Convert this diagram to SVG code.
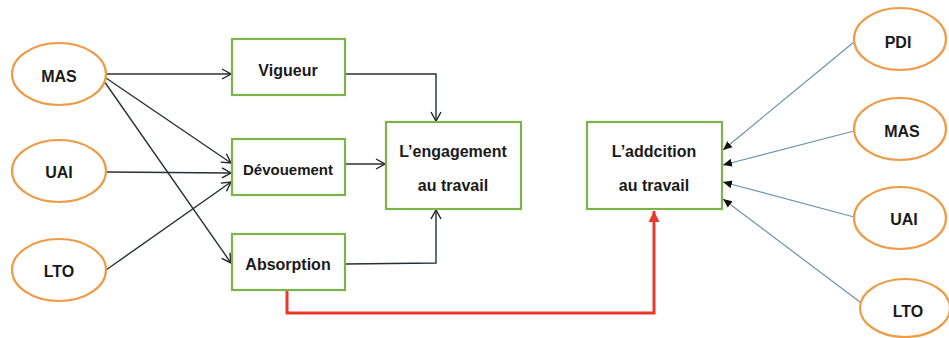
<svg xmlns="http://www.w3.org/2000/svg" width="949" height="338" viewBox="0 0 949 338">
<defs>
<marker id="open" markerWidth="12" markerHeight="12" refX="10" refY="6" orient="auto" markerUnits="userSpaceOnUse">
<path d="M1,1 L10,6 L1,11" fill="none" stroke="#222" stroke-width="1.4"/>
</marker>
<marker id="tri" markerWidth="10" markerHeight="10" refX="9" refY="5" orient="auto" markerUnits="userSpaceOnUse">
<path d="M0,1 L9,5 L0,9 Z" fill="#111"/>
</marker>
<marker id="red" markerWidth="12" markerHeight="12" refX="11" refY="6" orient="auto" markerUnits="userSpaceOnUse">
<path d="M0,0.5 L11,6 L0,11.5 Z" fill="#e8392a"/>
</marker>
</defs>
<style>
.ell{fill:#fff;stroke:#ef9a45;stroke-width:2.2}
.box{fill:#fff;stroke:#7db34a;stroke-width:2.2}
text{font-family:"Liberation Sans",Arial,sans-serif;font-weight:bold;font-size:16px;fill:#1a1a1a;text-anchor:middle}
.dk{fill:none;stroke:#263038;stroke-width:1.4}
.bl{fill:none;stroke:#6e93a8;stroke-width:1.2}
.rd{fill:none;stroke:#e8392a;stroke-width:3}
</style>
<rect width="949" height="338" fill="#fff"/>
<g id="connectors">
<line class="dk" x1="107" y1="74" x2="231" y2="74" marker-end="url(#open)"/>
<line class="dk" x1="106" y1="78" x2="231" y2="163" marker-end="url(#open)"/>
<line class="dk" x1="104" y1="81" x2="231" y2="263" marker-end="url(#open)"/>
<line class="dk" x1="107" y1="172" x2="231" y2="173" marker-end="url(#open)"/>
<line class="dk" x1="106" y1="270" x2="231" y2="182" marker-end="url(#open)"/>
<polyline class="dk" points="345,74 436,74 436,121" marker-end="url(#open)"/>
<line class="dk" x1="345" y1="164" x2="385" y2="164" marker-end="url(#open)"/>
<polyline class="dk" points="345,264 436,263 436,210" marker-end="url(#open)"/>
<polyline class="rd" points="287,291 287,313 654,313 654,211" marker-end="url(#red)"/>
<line class="bl" x1="854" y1="42" x2="723" y2="150" marker-end="url(#tri)"/>
<line class="bl" x1="854" y1="131" x2="723" y2="165" marker-end="url(#tri)"/>
<line class="bl" x1="854" y1="217" x2="723" y2="182" marker-end="url(#tri)"/>
<line class="bl" x1="860" y1="302" x2="723" y2="199" marker-end="url(#tri)"/>
</g>
<g id="mas-left"><ellipse class="ell" cx="59" cy="74" rx="47" ry="31"/><text x="59" y="82">MAS</text></g>
<g id="uai-left"><ellipse class="ell" cx="59" cy="171" rx="47" ry="31"/><text x="59" y="178">UAI</text></g>
<g id="lto-left"><ellipse class="ell" cx="59" cy="270" rx="47" ry="31"/><text x="59" y="277">LTO</text></g>
<g id="vigueur"><rect class="box" x="232" y="39" width="113" height="56"/><text x="288" y="76">Vigueur</text></g>
<g id="devouement"><rect class="box" x="232" y="139" width="113" height="56"/><text x="288" y="175" style="font-size:15px">Dévouement</text></g>
<g id="absorption"><rect class="box" x="232" y="234" width="113" height="56"/><text x="288" y="270">Absorption</text></g>
<g id="engagement"><rect class="box" x="386" y="122" width="135" height="87"/><text x="453" y="157">L’engagement</text><text x="453" y="191">au travail</text></g>
<g id="addiction"><rect class="box" x="587" y="122" width="135" height="87"/><text x="654" y="157">L’addcition</text><text x="654" y="191">au travail</text></g>
<g id="pdi"><ellipse class="ell" cx="900" cy="39" rx="46" ry="31"/><text x="898" y="48">PDI</text></g>
<g id="mas-right"><ellipse class="ell" cx="900" cy="129" rx="46" ry="31"/><text x="902" y="137">MAS</text></g>
<g id="uai-right"><ellipse class="ell" cx="900" cy="218" rx="46" ry="31"/><text x="904" y="225">UAI</text></g>
<g id="lto-right"><ellipse class="ell" cx="905" cy="308" rx="45" ry="29"/><text x="908" y="317">LTO</text></g>
</svg>
